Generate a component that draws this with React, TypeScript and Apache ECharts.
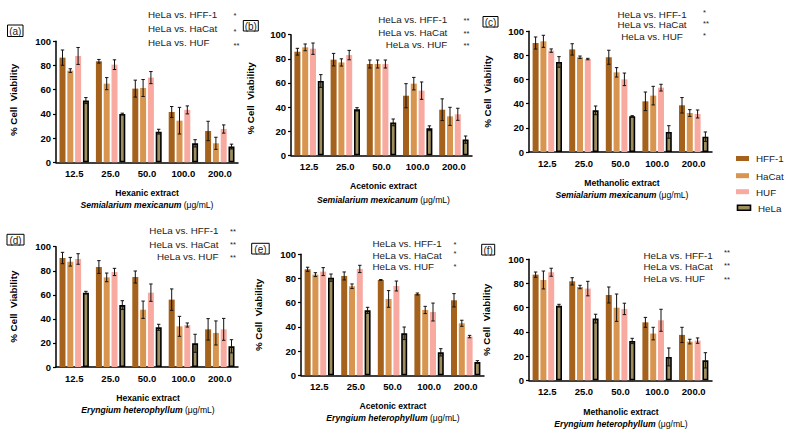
import React, { useEffect, useRef } from 'react';
import * as echarts from 'echarts';

// Dose levels on every x axis (µg/mL)
const doses = ['12.5', '25.0', '50.0', '100.0', '200.0'];
const cellLines = ['HFF-1', 'HaCat', 'HUF', 'HeLa'];
const cellColors = ['#A5621D', '#D8954F', '#F8AAA0', '#9E8E5E'];

// Mean % viability and SD per cell line, rows ordered HFF-1, HaCat, HUF, HeLa
const hexSemiMean = [
  [86.5, 83.5, 60.9, 41.6, 25.9],
  [75.8, 65.0, 61.4, 34.4, 15.7],
  [87.9, 80.7, 70.0, 43.3, 27.5],
  [51.0, 40.0, 25.3, 15.7, 13.0],
];
const hexSemiSd = [
  [6.3, 1.5, 7.0, 4.5, 8.0],
  [1.5, 5.0, 7.0, 11.0, 5.0],
  [7.0, 4.0, 5.0, 3.3, 3.4],
  [2.5, 0.6, 2.0, 3.0, 2.0],
];
const aceSemiMean = [
  [85.9, 79.3, 75.7, 49.4, 37.8],
  [89.5, 77.0, 75.7, 59.4, 32.3],
  [88.4, 83.1, 75.7, 53.6, 34.0],
  [61.6, 38.1, 27.3, 22.4, 13.0],
];
const aceSemiSd = [
  [2.8, 5.2, 3.3, 10.0, 9.0],
  [2.8, 3.0, 3.3, 5.2, 7.5],
  [4.7, 3.9, 3.3, 7.2, 5.0],
  [5.3, 1.4, 2.8, 2.0, 3.0],
];
const metSemiMean = [
  [90.3, 85.0, 78.5, 42.0, 38.7],
  [91.7, 78.5, 66.0, 46.7, 32.3],
  [84.0, 77.0, 60.2, 53.3, 31.5],
  [74.6, 34.5, 29.6, 16.6, 12.7],
];
const metSemiSd = [
  [5.0, 4.7, 5.8, 7.7, 6.4],
  [5.0, 1.0, 3.9, 7.7, 2.8],
  [1.4, 0.6, 5.2, 2.8, 3.3],
  [4.4, 3.6, 0.5, 5.2, 3.9],
];
const hexEryMean = [
  [90.6, 83.1, 74.8, 56.0, 31.3],
  [87.5, 74.5, 47.6, 33.8, 28.3],
  [89.8, 79.0, 61.8, 34.9, 31.3],
  [61.8, 51.5, 33.0, 19.7, 17.2],
];
const hexErySd = [
  [4.7, 5.3, 5.0, 8.9, 8.9],
  [3.6, 3.6, 7.2, 8.3, 10.0],
  [4.4, 3.0, 7.2, 1.7, 9.1],
  [1.1, 3.6, 2.5, 7.5, 5.5],
];
const aceEryMean = [
  [87.6, 82.1, 78.8, 67.2, 62.0],
  [83.2, 73.6, 63.1, 54.0, 43.0],
  [85.7, 87.9, 73.8, 52.3, 32.0],
  [80.7, 53.7, 34.7, 19.0, 11.0],
];
const aceErySd = [
  [1.7, 3.3, 0.3, 0.8, 5.5],
  [1.6, 1.9, 6.9, 3.0, 2.5],
  [3.3, 3.0, 4.1, 7.4, 1.0],
  [3.0, 2.5, 5.2, 3.0, 1.1],
];
const metEryMean = [
  [87.3, 81.8, 70.5, 47.9, 37.5],
  [82.9, 77.1, 60.0, 38.6, 32.0],
  [89.3, 75.8, 59.0, 49.6, 32.8],
  [61.7, 51.0, 32.5, 19.3, 16.5],
];
const metErySd = [
  [2.2, 3.0, 6.6, 4.1, 6.3],
  [7.4, 1.4, 11.3, 5.2, 1.9],
  [3.3, 6.0, 4.7, 9.1, 2.2],
  [1.1, 3.6, 2.2, 7.4, 6.3],
];

// Significance marks per panel (HFF-1, HaCat, HUF)
const sigA = ['*', '*', '**'];
const sigB = ['**', '**', '**'];
const sigC = ['*', '**', '*'];
const sigD = ['**', '**', '**'];
const sigE = ['*', '*', '*'];
const sigF = ['**', '**', '**'];
const comparisons = ['HeLa vs. HFF-1', 'HeLa vs. HaCat', 'HeLa vs. HUF'];

const FONT = 'Liberation Sans, Arial, Helvetica, sans-serif';
const BAR_W = 6;
const BAR_STEP = 7.8;

type Panel = {
  tag: string;
  extract: string;
  species: string;
  mean: number[][];
  sd: number[][];
  sig: string[];
  grid: { left: number; top: number; width: number; height: number };
  box: [number, number, number, number];
  yTitle: [number, number];
  xTitle: [number, number, number];
  sigText: { x: number; align: 'left' | 'right' | 'center'; ys: number[] };
  sigStar: { x: number; ys: number[] };
};

const panels: Panel[] = [
  {
    tag: '(a)', extract: 'Hexanic extract', species: 'Semialarium mexicanum',
    mean: hexSemiMean, sd: hexSemiSd, sig: sigA,
    grid: { left: 56, top: 41.3, width: 182, height: 121 },
    box: [7.5, 25, 15.5, 11.5], yTitle: [13.5, 100], xTitle: [147, 192.5, 204.5],
    sigText: { x: 148, align: 'left', ys: [14, 28.5, 42.5] },
    sigStar: { x: 233.5, ys: [15, 31.5, 45.5] },
  },
  {
    tag: '(b)', extract: 'Acetonic extract', species: 'Semialarium mexicanum',
    mean: aceSemiMean, sd: aceSemiSd, sig: sigB,
    grid: { left: 291, top: 34.7, width: 181, height: 120.6 },
    box: [243.3, 20.5, 15, 10.5], yTitle: [250, 98.5], xTitle: [383.5, 186, 200],
    sigText: { x: 447.3, align: 'right', ys: [19.3, 32.7, 44] },
    sigStar: { x: 463.5, ys: [20.8, 33.5, 45.8] },
  },
  {
    tag: '(c)', extract: 'Methanolic extract', species: 'Semialarium mexicanum',
    mean: metSemiMean, sd: metSemiSd, sig: sigC,
    grid: { left: 529, top: 31.3, width: 183, height: 120.7 },
    box: [483, 16.5, 15, 10.5], yTitle: [487.5, 91.7], xTitle: [622, 182.7, 195],
    sigText: { x: 652, align: 'center', ys: [14, 24.7, 36] },
    sigStar: { x: 703, ys: [12.5, 23.8, 35.8] },
  },
  {
    tag: '(d)', extract: 'Hexanic extract', species: 'Eryngium heterophyllum',
    mean: hexEryMean, sd: hexErySd, sig: sigD,
    grid: { left: 56, top: 246.7, width: 182, height: 120.3 },
    box: [7, 234.3, 17, 10.7], yTitle: [13.5, 306.7], xTitle: [148, 397.7, 409.7],
    sigText: { x: 218.5, align: 'right', ys: [230.3, 244, 256.7] },
    sigStar: { x: 230, ys: [231.5, 244.8, 257.5] },
  },
  {
    tag: '(e)', extract: 'Acetonic extract', species: 'Eryngium heterophyllum',
    mean: aceEryMean, sd: aceErySd, sig: sigE,
    grid: { left: 301, top: 254.3, width: 183, height: 121 },
    box: [251.7, 243.3, 17.5, 10.7], yTitle: [258.3, 315], xTitle: [393, 406, 417.7],
    sigText: { x: 372.5, align: 'left', ys: [243, 255, 266] },
    sigStar: { x: 453.5, ys: [244.8, 253.4, 266.5] },
  },
  {
    tag: '(f)', extract: 'Methanolic extract', species: 'Eryngium heterophyllum',
    mean: metEryMean, sd: metErySd, sig: sigF,
    grid: { left: 529, top: 259.3, width: 183, height: 121 },
    box: [481.7, 244.3, 13, 10.7], yTitle: [486, 320], xTitle: [621, 411.7, 424.3],
    sigText: { x: 643.5, align: 'left', ys: [255, 266.7, 278.3] },
    sigStar: { x: 724, ys: [252.5, 265.8, 279.2] },
  },
];

function errorBarRenderer(params: any, api: any) {
  const cat = api.value(0);
  const m = api.value(1);
  const s = api.value(2);
  const k = api.value(3);
  const x = api.coord([cat, m])[0] + (k - 1.5) * BAR_STEP;
  const yTop = api.coord([cat, m + s])[1];
  const yBot = api.coord([cat, Math.max(0, m - s)])[1];
  const st = { stroke: '#111', lineWidth: 1 };
  return {
    type: 'group',
    children: [
      { type: 'line', shape: { x1: x, y1: yTop, x2: x, y2: yBot }, style: st },
      { type: 'line', shape: { x1: x - 1.7, y1: yTop, x2: x + 1.7, y2: yTop }, style: st },
      { type: 'line', shape: { x1: x - 1.7, y1: yBot, x2: x + 1.7, y2: yBot }, style: st },
    ],
  };
}

function buildOption() {
  const grid: any[] = [];
  const xAxis: any[] = [];
  const yAxis: any[] = [];
  const series: any[] = [];
  const graphic: any[] = [];

  panels.forEach((p, pi) => {
    grid.push({ ...p.grid });
    xAxis.push({
      type: 'category',
      gridIndex: pi,
      data: doses,
      axisLine: { lineStyle: { color: '#000', width: 1.5 } },
      axisTick: { alignWithLabel: true, length: 3, lineStyle: { color: '#000', width: 1.2 } },
      axisLabel: { color: '#000', fontWeight: 'bold', fontSize: 9.5, fontFamily: FONT, margin: 6 },
    });
    yAxis.push({
      type: 'value',
      gridIndex: pi,
      min: 0,
      max: 100,
      interval: 20,
      axisLine: { show: true, lineStyle: { color: '#000', width: 1.5 } },
      axisTick: { show: true, length: 3, lineStyle: { color: '#000', width: 1.2 } },
      splitLine: { show: false },
      axisLabel: { color: '#000', fontWeight: 'bold', fontSize: 9.5, fontFamily: FONT, margin: 5 },
    });

    const errItems: number[][] = [];
    cellLines.forEach((name, k) => {
      const isHeLa = k === 3;
      series.push({
        type: 'bar',
        name,
        xAxisIndex: pi,
        yAxisIndex: pi,
        data: p.mean[k],
        barWidth: BAR_W,
        barGap: '30%',
        itemStyle: {
          color: cellColors[k],
          borderColor: isHeLa ? '#000' : cellColors[k],
          borderWidth: isHeLa ? 1.6 : 0,
        },
      });
      p.mean[k].forEach((m, c) => errItems.push([c, m, p.sd[k][c], k]));
    });
    series.push({
      type: 'custom',
      xAxisIndex: pi,
      yAxisIndex: pi,
      data: errItems,
      encode: { x: 0, y: 1 },
      renderItem: errorBarRenderer,
      z: 5,
    });

    // panel tag in a box
    const [bx, by, bw, bh] = p.box;
    graphic.push({
      type: 'rect',
      shape: { x: bx, y: by, width: bw, height: bh },
      style: { fill: '#fff', stroke: '#000', lineWidth: 1 },
    });
    graphic.push({
      type: 'text',
      x: bx + bw / 2,
      y: by + bh / 2 + 0.5,
      style: { text: p.tag, fontSize: 10, fontFamily: FONT, fill: '#222', align: 'center', verticalAlign: 'middle' },
    });

    // y axis title
    graphic.push({
      type: 'text',
      x: p.yTitle[0],
      y: p.yTitle[1],
      rotation: Math.PI / 2,
      style: {
        text: '% Cell  Viability', fontSize: 9.8, fontWeight: 'bold', fontFamily: FONT, fill: '#000',
        align: 'center', verticalAlign: 'middle',
      },
    });

    // x axis titles
    graphic.push({
      type: 'text',
      x: p.xTitle[0],
      y: p.xTitle[1],
      style: {
        text: p.extract, fontSize: 8.6, fontWeight: 'bold', fontFamily: FONT, fill: '#000',
        align: 'center', verticalAlign: 'middle',
      },
    });
    graphic.push({
      type: 'text',
      x: p.xTitle[0],
      y: p.xTitle[2],
      style: {
        text: '{i|' + p.species + '} {n|(\u03bcg/mL)}',
        fontSize: 8.6, fontFamily: FONT, fill: '#000', align: 'center', verticalAlign: 'middle',
        rich: {
          i: { fontStyle: 'italic', fontWeight: 'bold', fontSize: 8.6, fontFamily: FONT, fill: '#000' },
          n: { fontSize: 8.6, fontFamily: FONT, fill: '#000' },
        },
      },
    });

    // significance annotations
    comparisons.forEach((c, j) => {
      graphic.push({
        type: 'text',
        x: p.sigText.x,
        y: p.sigText.ys[j],
        style: {
          text: c, fontSize: 9.8, fontFamily: FONT, fill: '#222',
          align: p.sigText.align, verticalAlign: 'middle',
        },
      });
      graphic.push({
        type: 'text',
        x: p.sigStar.x,
        y: p.sigStar.ys[j],
        style: { text: p.sig[j], fontSize: 7.5, fontFamily: FONT, fill: '#222', align: 'left', verticalAlign: 'middle' },
      });
    });
  });

  // legend
  const legendYs = [158.5, 175.7, 191.7, 207.7];
  cellLines.forEach((name, k) => {
    const isHeLa = k === 3;
    graphic.push({
      type: 'rect',
      shape: { x: isHeLa ? 737.5 : 736, y: legendYs[k] - 2.5, width: 13, height: 5 },
      style: {
        fill: cellColors[k],
        stroke: isHeLa ? '#000' : null,
        lineWidth: isHeLa ? 1.6 : 0,
      },
    });
    graphic.push({
      type: 'text',
      x: isHeLa ? 758 : 756,
      y: legendYs[k] + 0.3,
      style: { text: name, fontSize: 9.8, fontFamily: FONT, fill: '#222', align: 'left', verticalAlign: 'middle' },
    });
  });

  return {
    animation: false,
    backgroundColor: '#fff',
    textStyle: { fontFamily: FONT },
    grid,
    xAxis,
    yAxis,
    series,
    graphic,
  };
}

export default function App() {
  const ref = useRef<HTMLDivElement>(null);
  useEffect(() => {
    if (!ref.current) return;
    const chart = echarts.init(ref.current, undefined, { renderer: 'svg' });
    chart.setOption(buildOption() as any);
    return () => chart.dispose();
  }, []);
  return (
    <div
      ref={ref}
      style={{ position: 'fixed', left: 0, top: 0, width: 788, height: 435, background: '#fff' }}
    />
  );
}
